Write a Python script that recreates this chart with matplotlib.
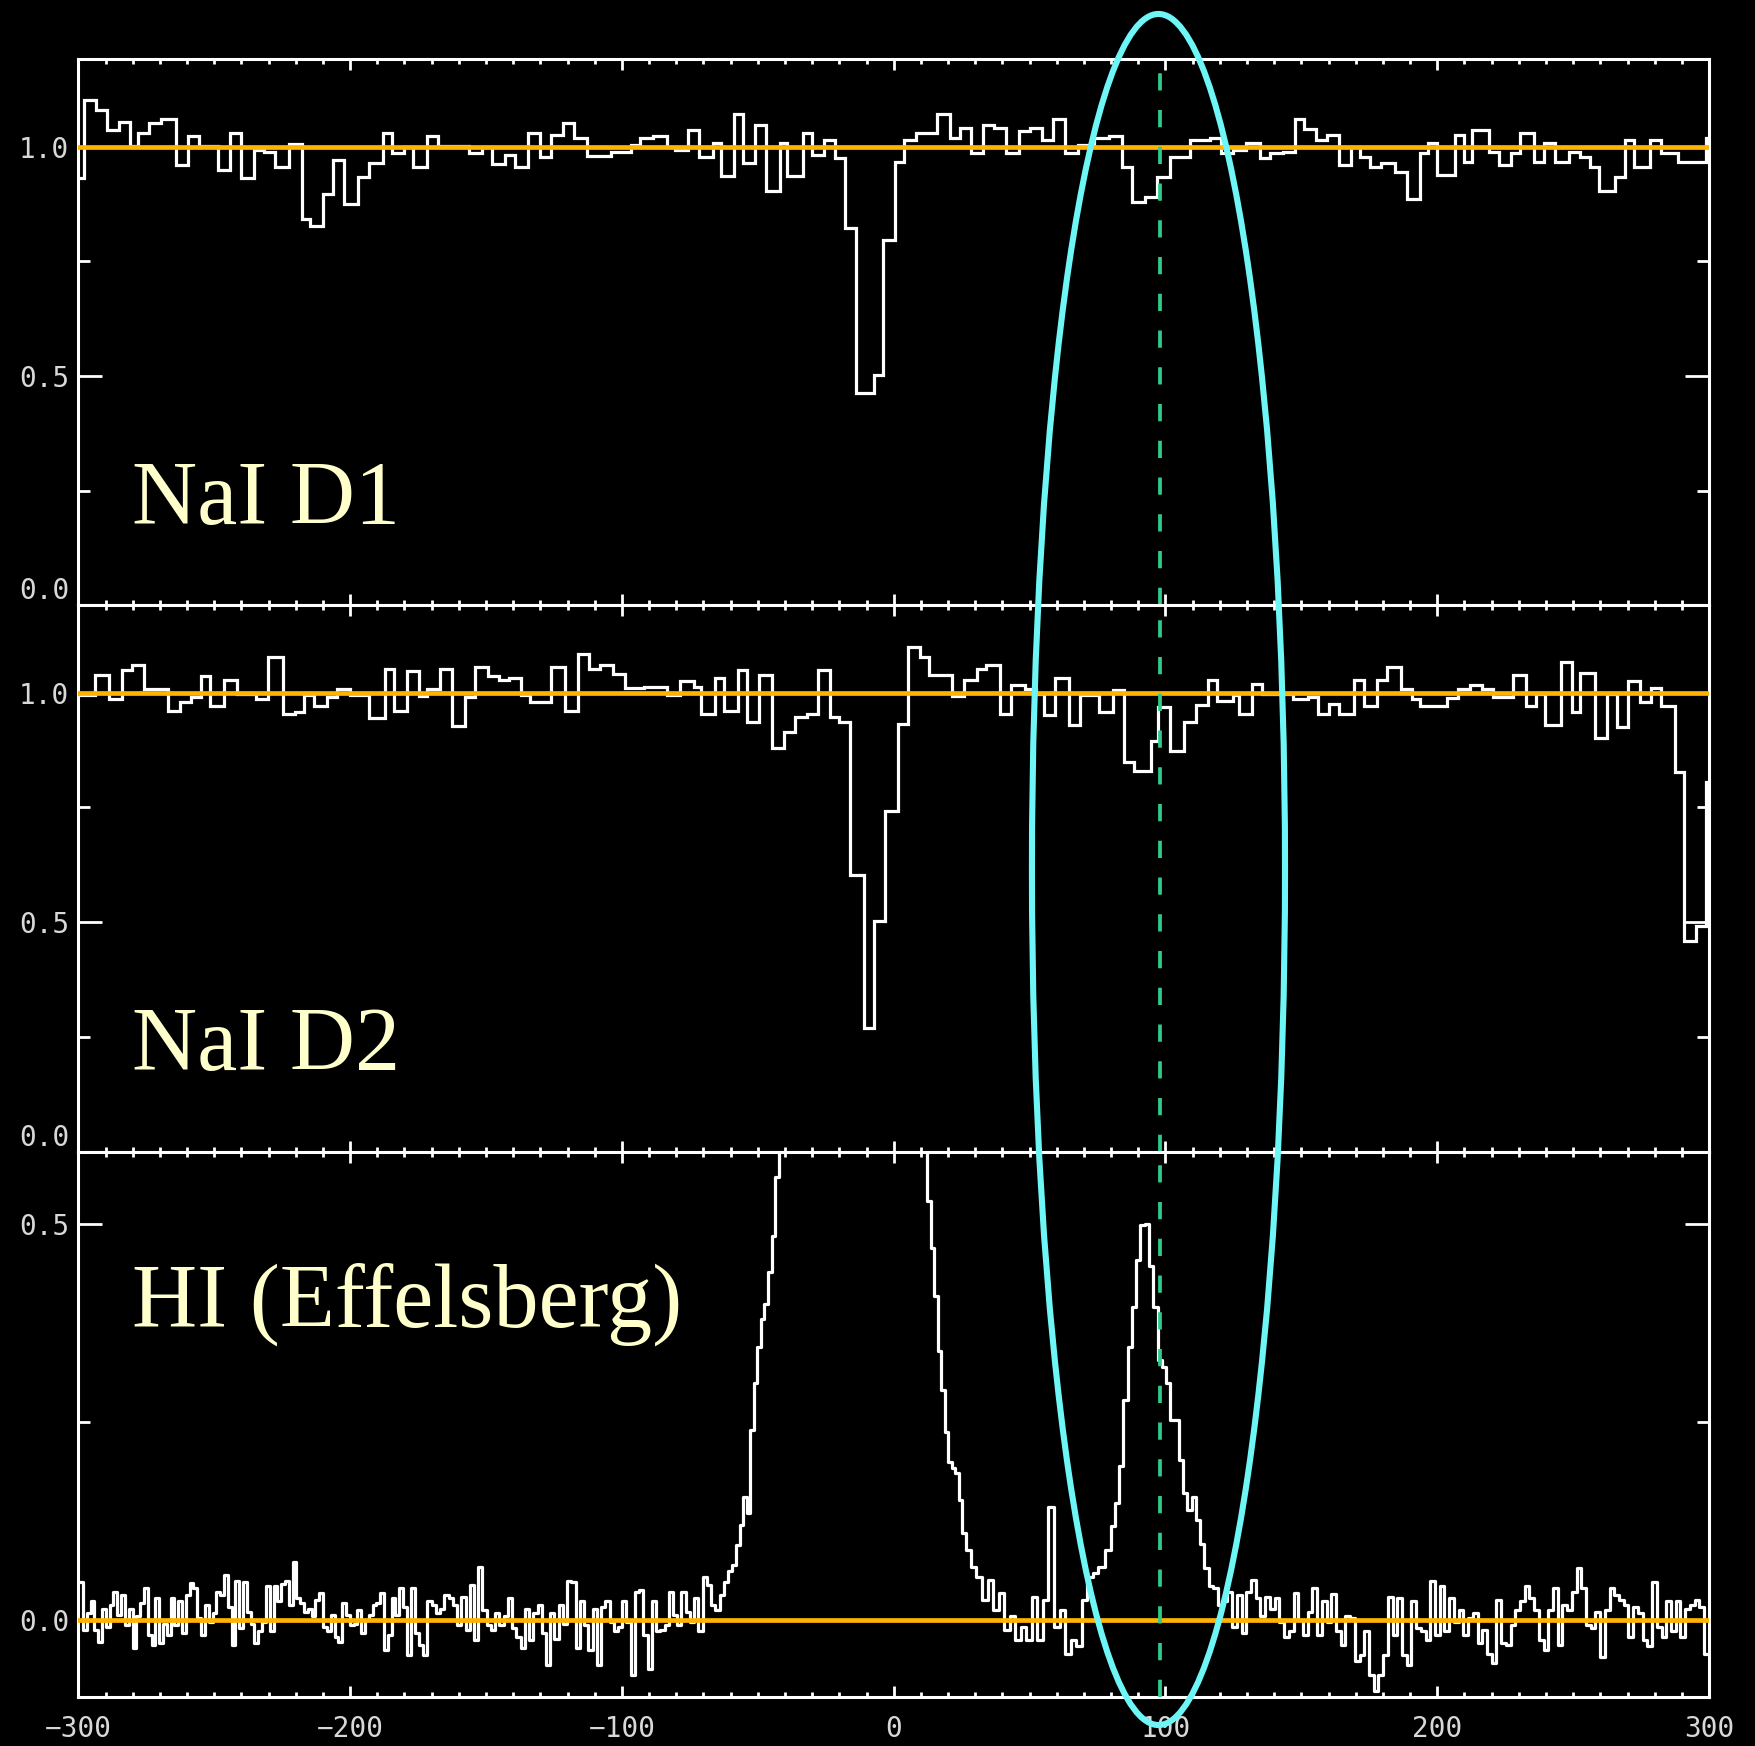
"""NaI D1 / NaI D2 / HI (Effelsberg) velocity stack, black IDL-style panels.

Flux values read off the reference plot; velocities in km/s (LSR).
"""

import numpy as np
import matplotlib
matplotlib.use("Agg")
import matplotlib.pyplot as plt
from matplotlib.patches import Ellipse
from matplotlib.ticker import MultipleLocator, FormatStrFormatter

# ---- NaI D1 (normalised flux, binned) ----
d1_edges = [-302.0, -298.1, -293.6, -289.4, -285.2, -281.0, -278.1, -273.9, -269.7, -264.1,
            -259.8, -255.6, -248.6, -244.3, -240.1, -235.2, -231.7, -227.5, -222.5, -217.6,
            -214.8, -209.8, -206.3, -202.1, -197.2, -193.0, -188.0, -184.5, -180.3, -176.8,
            -171.8, -167.6, -156.3, -151.4, -147.9, -142.9, -139.4, -134.5, -130.3, -126.1,
            -121.8, -117.6, -112.7, -103.9, -96.8, -93.3, -88.4, -83.4, -80.6, -75.7,
            -71.5, -66.5, -63.7, -58.8, -55.3, -51.0, -46.8, -41.9, -39.1, -33.5,
            -29.9, -25.7, -21.5, -17.9, -13.7, -7.4, -3.9, 0.3, 3.9, 8.1,
            15.8, 20.8, 24.3, 28.5, 32.7, 36.9, 41.2, 46.1, 50.3, 54.5,
            58.8, 63.0, 67.9, 73.6, 79.2, 84.1, 87.6, 92.6, 96.8, 101.5,
            109.2, 116.3, 120.5, 124.8, 129.8, 134.7, 138.3, 143.2, 147.5, 151.0,
            155.3, 159.6, 163.8, 168.1, 171.6, 175.2, 179.4, 184.4, 188.7, 193.6,
            196.5, 200.0, 206.4, 210.0, 212.8, 219.2, 222.7, 227.0, 230.5, 235.5,
            239.1, 243.3, 248.3, 252.5, 256.1, 259.6, 265.3, 268.9, 272.4, 278.1,
            282.3, 288.7, 298.7, 302.0]
d1_flux = [0.931, 1.101, 1.080, 1.036, 1.054, 1.001, 1.029, 1.051, 1.060, 0.960,
           1.023, 1.001, 0.949, 1.030, 0.931, 0.993, 0.989, 0.955, 1.006, 0.842,
           0.827, 0.897, 0.971, 0.875, 0.934, 0.965, 1.029, 0.985, 1.000, 0.956,
           1.022, 1.001, 0.985, 1.000, 0.962, 0.982, 0.956, 1.030, 0.978, 1.025,
           1.052, 1.018, 0.980, 0.989, 1.003, 1.018, 1.022, 1.000, 0.993, 1.036,
           0.978, 1.007, 0.935, 1.071, 0.964, 1.047, 0.902, 1.007, 0.935, 1.030,
           0.982, 1.014, 0.974, 0.822, 0.462, 0.502, 0.797, 0.967, 1.014, 1.029,
           1.071, 1.018, 1.041, 0.985, 1.047, 1.040, 0.985, 1.033, 1.040, 1.014,
           1.059, 0.985, 1.003, 1.018, 1.022, 0.956, 0.878, 0.889, 0.934, 0.978,
           1.014, 1.018, 0.985, 0.993, 1.007, 0.975, 0.985, 0.989, 1.059, 1.038,
           1.014, 1.024, 0.960, 1.000, 0.978, 0.956, 0.963, 0.945, 0.885, 0.985,
           1.007, 0.938, 1.024, 0.967, 1.036, 0.989, 0.960, 0.985, 1.030, 0.967,
           1.007, 0.967, 0.989, 0.978, 0.956, 0.902, 0.934, 1.014, 0.956, 1.014,
           0.985, 0.967, 1.018]

# ---- NaI D2 ----
d2_edges = [-302.0, -293.9, -288.7, -283.8, -280.3, -276.0, -266.9, -262.7, -258.4, -254.9,
            -251.4, -246.5, -241.5, -234.5, -230.3, -224.6, -220.4, -216.9, -213.4, -208.4,
            -204.9, -200.0, -192.9, -187.3, -183.8, -178.9, -174.6, -171.8, -166.9, -162.7,
            -157.7, -154.2, -149.3, -145.1, -141.5, -137.3, -133.8, -126.1, -121.1, -116.2,
            -112.0, -108.0, -103.2, -98.9, -91.9, -83.4, -78.5, -73.6, -70.8, -65.8,
            -62.3, -57.4, -53.9, -49.7, -44.7, -40.5, -36.3, -32.0, -27.8, -23.6,
            -20.1, -15.9, -10.9, -7.4, -3.2, 1.7, 5.3, 9.5, 13.0, 21.5,
            25.7, 30.6, 34.1, 39.1, 43.3, 48.2, 52.4, 55.3, 59.5, 64.4,
            68.6, 75.7, 80.6, 84.8, 88.3, 94.7, 97.3, 101.5, 107.0, 111.3,
            115.6, 119.1, 124.8, 126.9, 131.9, 135.4, 146.8, 152.5, 156.0, 160.3,
            163.8, 169.5, 173.0, 178.0, 181.6, 186.5, 190.8, 193.6, 203.6, 207.8,
            212.1, 216.3, 220.6, 227.7, 232.7, 236.2, 239.8, 245.4, 249.7, 252.5,
            258.2, 262.5, 266.0, 270.3, 274.5, 278.8, 282.3, 287.3, 290.9, 295.1,
            298.7, 300.5]
d2_flux = [0.994, 1.038, 0.987, 1.049, 1.061, 1.009, 0.961, 0.980, 0.990, 1.036,
           0.972, 1.027, 0.998, 0.987, 1.078, 0.954, 0.959, 0.994, 0.972, 0.990,
           1.009, 0.994, 0.945, 1.051, 0.961, 1.047, 0.992, 1.009, 1.051, 0.927,
           0.990, 1.056, 1.036, 1.027, 1.032, 0.994, 0.980, 1.056, 0.961, 1.085,
           1.052, 1.060, 1.041, 1.010, 1.012, 0.994, 1.025, 1.012, 0.954, 1.031,
           0.961, 1.049, 0.937, 1.038, 0.879, 0.914, 0.947, 0.954, 1.049, 0.947,
           0.937, 0.602, 0.270, 0.503, 0.743, 0.932, 1.100, 1.078, 1.039, 0.993,
           1.027, 1.052, 1.060, 0.954, 1.017, 1.009, 0.998, 0.951, 1.031, 0.929,
           0.994, 0.958, 1.007, 0.849, 0.830, 0.894, 0.968, 0.874, 0.937, 0.974,
           1.027, 0.983, 0.994, 0.954, 1.020, 0.998, 0.987, 0.990, 0.954, 0.976,
           0.954, 1.027, 0.971, 1.027, 1.056, 1.009, 0.987, 0.972, 0.988, 1.009,
           1.016, 1.009, 0.990, 1.038, 0.972, 0.998, 0.930, 1.068, 0.959, 1.044,
           0.901, 0.998, 0.925, 1.025, 0.980, 1.010, 0.972, 0.827, 0.459, 0.492,
           0.806]

# ---- HI (Effelsberg), brightness in pieces: (v_first, v_last, values) ----
hi_a = [0.048, -0.013, 0.008, 0.023, -0.013, -0.028, 0.014, -0.009, 0.018, 0.035,
        0.006, 0.031, -0.007, 0.014, -0.036, 0.004, 0.021, 0.040, -0.019, -0.032,
        0.027, -0.030, -0.005, -0.019, 0.027, -0.007, 0.023, -0.017, 0.031, 0.046,
        0.040, 0.002, -0.019, 0.018, -0.003, 0.008, 0.035, 0.031, 0.056, 0.016,
        -0.032, 0.049, -0.011, 0.048, 0.010, -0.005, -0.030, -0.015, -0.003, 0.042,
        -0.015, 0.042, 0.023, 0.045, 0.049, 0.018, 0.073, 0.027, 0.021, 0.010,
        0.014, 0.004, 0.025, 0.033, -0.009, -0.015, 0.006, -0.022, -0.028, 0.021,
        0.006, -0.007, -0.005, 0.012, -0.017, -0.001, 0.006, 0.018, 0.021, 0.033,
        -0.038, -0.019, 0.027, 0.006, 0.040, 0.016, -0.045]
hi_b = [0.040, -0.017, -0.032, -0.045, 0.023, 0.018, 0.008, 0.014, 0.031, 0.027,
        0.018, -0.007, 0.029, -0.013, 0.044, -0.026, 0.066, 0.012, -0.007, -0.013,
        0.008, -0.007, 0.004, 0.027, -0.011, -0.022, -0.036, 0.014, -0.026, 0.008,
        0.018, -0.017, -0.057, 0.008, -0.024, 0.018, -0.005, 0.049, 0.048, -0.036,
        0.023, -0.007, -0.038, 0.014, -0.057, 0.016, 0.023, -0.003, -0.015, -0.009,
        0.023, -0.003, -0.070, 0.035, 0.037, -0.019, -0.062, 0.023, -0.015, -0.013,
        -0.007, 0.035, 0.006, -0.007, 0.035, 0.010, -0.003, 0.027, -0.015, 0.054,
        0.044, 0.018, 0.012, 0.031, 0.048, 0.061, 0.069]
# main local component: top is off-scale in the original, estimated
hi_c = [0.095, 0.120, 0.155, 0.135, 0.240, 0.300, 0.345, 0.380, 0.400, 0.440,
        0.485, 0.560, 0.640, 0.75, 0.86, 0.98, 1.10, 1.22, 1.34, 1.46,
        1.57, 1.68, 1.78, 1.87, 1.95, 2.02, 2.08, 2.13, 2.17, 2.20,
        2.22, 2.23, 2.22, 2.20, 2.17, 2.12, 2.06, 1.98, 1.89, 1.78,
        1.66, 1.52, 1.38, 1.23, 1.08, 0.96, 0.88, 0.82, 0.76, 0.72,
        0.68, 0.65, 0.63, 0.60, 0.53, 0.47, 0.41, 0.34, 0.29, 0.238,
        0.200, 0.192, 0.185, 0.151, 0.110]
hi_d = [0.088, 0.067, 0.054, 0.025, 0.050, 0.012, 0.033, -0.013, 0.004, -0.026,
        -0.009, -0.026, 0.029, -0.026, 0.025, 0.143, -0.009, 0.012, -0.043, -0.026,
        -0.034, 0.025, 0.054, 0.059, 0.067]
# IVC at ~+95 km/s
hi_e = [0.088, 0.118, 0.147, 0.194, 0.278, 0.345, 0.396, 0.455, 0.499, 0.501,
        0.447, 0.396, 0.329, 0.320, 0.299, 0.253, 0.253, 0.202, 0.160, 0.139,
        0.155, 0.126, 0.096]
hi_f = [0.065, 0.042, 0.040, 0.018, 0.023, 0.035, -0.009, 0.031, -0.017, 0.035,
        0.050, 0.027, 0.004, 0.029, 0.014, 0.027, -0.003, -0.022, -0.015, 0.033,
        -0.001, -0.019, 0.010, 0.040, -0.019, 0.023, -0.003, 0.032, -0.015, -0.032,
        0.004, 0.002, -0.053, -0.045, -0.015, -0.070, -0.091, -0.070, -0.045, 0.029,
        -0.019, 0.027, -0.045, -0.057, 0.023, -0.011, -0.015, -0.026, 0.049, -0.019,
        0.042, -0.015, 0.027, -0.003, 0.012, -0.019, 0.002, 0.008, -0.030, -0.013,
        -0.043, -0.055, 0.025, -0.030, -0.032, -0.007, 0.012, 0.023, 0.042, 0.027,
        0.012, -0.026, -0.038, 0.012, 0.040, -0.032, 0.018, 0.012, 0.035, 0.065,
        0.040, -0.007, -0.011, 0.010, -0.047, 0.012, 0.040, 0.031, 0.025, 0.018,
        -0.022, 0.016, 0.008, -0.026, -0.034, 0.048, -0.009, -0.022, 0.023, -0.015,
        0.023, -0.022, 0.014, 0.018, 0.025, 0.016, -0.043]
hi_pieces = [(-299.0, -178.4, hi_a), (-177.0, -58.6, hi_b), (-57.3, 25.9, hi_c),
             (27.4, 76.3, hi_d), (79.0, 113.6, hi_e), (115.0, 299.0, hi_f)]

labels = ["NaI D1", "NaI D2", "HI (Effelsberg)"]
v_mark = 98.0   # dashed marker velocity

CREAM = "#FFFFCC"
ORANGE = "#FFB300"
GREEN = "#2FCB8C"
CYAN = "#6EF6F6"
TICKC = "#d8d8d8"

hi_vel = np.concatenate([np.linspace(a, b, len(v)) for a, b, v in hi_pieces])
hi_flux = np.concatenate([v for _, _, v in hi_pieces])

fig = plt.figure(figsize=(17.55, 17.46), dpi=100, facecolor="black")
L, W = 0.04464, 0.92917
bounds = [0.96604, 0.65321, 0.34032, 0.02806]
axes = [fig.add_axes([L, bounds[i + 1], W, bounds[i] - bounds[i + 1]]) for i in range(3)]


def style(ax, bottom_labels):
    ax.set_facecolor("black")
    for sp in ax.spines.values():
        sp.set_color("white")
        sp.set_linewidth(2.2)
    ax.set_xlim(-300, 300)
    ax.xaxis.set_major_locator(MultipleLocator(100))
    ax.xaxis.set_minor_locator(MultipleLocator(10))
    ax.yaxis.set_minor_locator(MultipleLocator(0.25))
    ax.yaxis.set_major_formatter(FormatStrFormatter("%.1f"))
    ax.tick_params(which="both", direction="in", top=True, right=True,
                   color="white", labelcolor=TICKC, labelsize=20)
    ax.tick_params(axis="x", which="major", length=7.7, width=2, pad=13)
    ax.tick_params(axis="x", which="minor", length=3.5, width=2)
    ax.tick_params(axis="y", which="major", length=17.5, width=2, pad=6.5)
    ax.tick_params(axis="y", which="minor", length=8.5, width=2)
    ax.tick_params(labelbottom=bottom_labels)
    for lbl in ax.get_xticklabels() + ax.get_yticklabels():
        lbl.set_family("DejaVu Sans Mono")


# NaI panels
for ax, edges, flux, lab in [(axes[0], d1_edges, d1_flux, labels[0]),
                             (axes[1], d2_edges, d2_flux, labels[1])]:
    ax.stairs(flux, edges, baseline=None, color="white", lw=2.3, zorder=3)
    ax.axhline(1.0, color=ORANGE, lw=3.4, zorder=4)
    ax.set_ylim(0, 1.19)
    ax.set_yticks([0.0, 0.5, 1.0])
    style(ax, False)
    ax.yaxis.get_major_ticks()[0].label1.set_verticalalignment("bottom")
    ax.text(0.0329, 0.15, lab, transform=ax.transAxes, fontsize=65,
            family="Liberation Serif", color=CREAM, va="baseline")

# HI panel
ax = axes[2]
ax.step(hi_vel, hi_flux, where="mid", color="white", lw=2.3, zorder=3)
ax.axhline(0.0, color=ORANGE, lw=3.4, zorder=4)
ax.set_ylim(-0.098, 0.592)
ax.set_yticks([0.0, 0.5])
style(ax, True)
ax.text(0.0329, 0.679, labels[2], transform=ax.transAxes, fontsize=65,
        family="Liberation Serif", color=CREAM, va="baseline")

for ax in axes:
    ax.axvline(v_mark, color=GREEN, lw=2.7, ls=(0, (4.6, 5.2)), zorder=5)

fig.add_artist(Ellipse((0.6601, 0.502), 0.1442, 0.980, transform=fig.transFigure,
                       fill=False, edgecolor=CYAN, lw=4.4, zorder=10))

fig.savefig("out.png", dpi=100, facecolor="black")
